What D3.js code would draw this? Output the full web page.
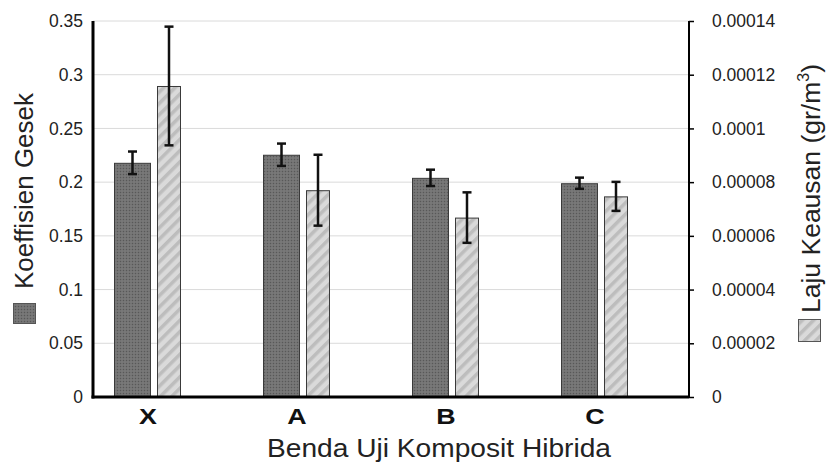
<!DOCTYPE html>
<html>
<head>
<meta charset="utf-8">
<script src="https://cdn.jsdelivr.net/npm/d3@7/dist/d3.min.js"></script>
<style>
html,body{margin:0;padding:0;background:#fff;}
svg{display:block;font-family:"Liberation Sans",Arial,sans-serif;}
</style>
</head>
<body>
<div id="chart"></div>
<script>
// ---- data ----
const categories = ["X", "A", "B", "C"];
const koefisienGesek = [0.218, 0.2255, 0.204, 0.199];
const koefisienErr = [0.0105, 0.0104, 0.0076, 0.0052];
const lajuKeausan = [0.0001158, 0.0000770, 0.0000668, 0.0000747];
const lajuErr = [0.0000221, 0.0000132, 0.0000094, 0.0000054];
const leftTicks = [0, 0.05, 0.1, 0.15, 0.2, 0.25, 0.3, 0.35];
const leftTickLabels = ["0", "0.05", "0.1", "0.15", "0.2", "0.25", "0.3", "0.35"];
const rightTicks = [0, 0.00002, 0.00004, 0.00006, 0.00008, 0.0001, 0.00012, 0.00014];
const rightTickLabels = ["0", "0.00002", "0.00004", "0.00006", "0.00008", "0.0001", "0.00012", "0.00014"];
const xTitle = "Benda Uji Komposit Hibrida";
const leftTitle = "Koeffisien Gesek";
const rightTitle = "Laju Keausan (gr/m";

// ---- layout ----
const W = 826, H = 462;
const L = 93, R = 689, T = 21, B = 397;
const FONT = "Liberation Sans, Arial, sans-serif";

const svg = d3.select("#chart").append("svg").attr("width", W).attr("height", H);
const defs = svg.append("defs");

// dark dotted pattern
const pd = defs.append("pattern").attr("id", "darkPat").attr("patternUnits", "userSpaceOnUse")
  .attr("width", 3).attr("height", 3);
pd.append("rect").attr("width", 3).attr("height", 3).attr("fill", "#727272");
pd.append("rect").attr("x", 0).attr("y", 0).attr("width", 1).attr("height", 1).attr("fill", "#585858");
pd.append("rect").attr("x", 1.5).attr("y", 1.5).attr("width", 1).attr("height", 1).attr("fill", "#8a8a8a");

// light striped pattern
const pl = defs.append("pattern").attr("id", "lightPat").attr("patternUnits", "userSpaceOnUse")
  .attr("width", 8).attr("height", 8).attr("patternTransform", "rotate(45)");
pl.append("rect").attr("width", 8).attr("height", 8).attr("fill", "#dadada");
pl.append("rect").attr("x", 0).attr("y", 0).attr("width", 3.5).attr("height", 8).attr("fill", "#bdbdbd");

const x = d3.scaleBand().domain(categories).range([L, R]).paddingInner(0).paddingOuter(0);
const yL = d3.scaleLinear().domain([0, 0.35]).range([B, T]);
const yR = d3.scaleLinear().domain([0, 0.00014]).range([B, T]);

// gridlines
svg.append("g").selectAll("line").data(leftTicks.slice(1)).join("line")
  .attr("x1", L).attr("x2", R)
  .attr("y1", d => yL(d)).attr("y2", d => yL(d))
  .attr("stroke", "#dadada").attr("stroke-width", 1);

const darkOff = 21, darkW = 37, lightOff = 64, lightW = 24, labelOff = 55;

// dark bars
svg.append("g").selectAll("rect").data(categories).join("rect")
  .attr("x", c => x(c) + darkOff + 0.5)
  .attr("y", (c, i) => yL(koefisienGesek[i]) + 0.5)
  .attr("width", darkW - 1)
  .attr("height", (c, i) => B - yL(koefisienGesek[i]) - 0.5)
  .attr("fill", "url(#darkPat)").attr("stroke", "#3a3a3a").attr("stroke-width", 1);

// light bars
svg.append("g").selectAll("rect").data(categories).join("rect")
  .attr("x", c => x(c) + lightOff + 0.5)
  .attr("y", (c, i) => yR(lajuKeausan[i]) + 0.5)
  .attr("width", lightW - 1)
  .attr("height", (c, i) => B - yR(lajuKeausan[i]) - 0.5)
  .attr("fill", "url(#lightPat)").attr("stroke", "#3a3a3a").attr("stroke-width", 1);

// error bars
function errBars(cx, yv, ev, scale) {
  const g = svg.append("g").attr("stroke", "#111").attr("stroke-width", 2.5);
  categories.forEach((c, i) => {
    const xc = cx(c);
    const yt = scale(yv[i] + ev[i]), yb = scale(yv[i] - ev[i]);
    g.append("line").attr("x1", xc).attr("x2", xc).attr("y1", yt).attr("y2", yb);
    g.append("line").attr("x1", xc - 4.5).attr("x2", xc + 4.5).attr("y1", yt).attr("y2", yt);
    g.append("line").attr("x1", xc - 4.5).attr("x2", xc + 4.5).attr("y1", yb).attr("y2", yb);
  });
}
errBars(c => x(c) + darkOff + darkW / 2, koefisienGesek, koefisienErr, yL);
errBars(c => x(c) + lightOff + lightW / 2, lajuKeausan, lajuErr, yR);

// left axis
const gl = svg.append("g").attr("transform", `translate(${L},0)`)
  .call(d3.axisLeft(yL).tickValues(leftTicks).tickFormat((d, i) => leftTickLabels[i]).tickSize(0).tickPadding(10));
gl.select(".domain").remove();
gl.selectAll("text").attr("font-size", 17.5).attr("fill", "#222").attr("font-family", FONT);
svg.append("line").attr("x1", L).attr("x2", L).attr("y1", T).attr("y2", B + 1.5)
  .attr("stroke", "#000").attr("stroke-width", 3);

// right axis
const gr = svg.append("g").attr("transform", `translate(${R},0)`)
  .call(d3.axisRight(yR).tickValues(rightTicks).tickFormat((d, i) => rightTickLabels[i]).tickSize(5).tickPadding(18));
gr.select(".domain").remove();
gr.selectAll("line").attr("stroke", "#000").attr("stroke-width", 1.5);
gr.selectAll("text").attr("font-size", 17.5).attr("fill", "#222").attr("font-family", FONT);
svg.append("line").attr("x1", R).attr("x2", R).attr("y1", T).attr("y2", B)
  .attr("stroke", "#000").attr("stroke-width", 2);

// bottom axis
svg.append("line").attr("x1", L - 1.5).attr("x2", R).attr("y1", B).attr("y2", B)
  .attr("stroke", "#000").attr("stroke-width", 3);

// category labels
svg.append("g").selectAll("text").data(categories).join("text")
  .attr("transform", c => `translate(${x(c) + labelOff},424) scale(1.22,1)`)
  .attr("text-anchor", "middle").attr("font-size", 22).attr("font-weight", "bold").attr("fill", "#111")
  .text(c => c);

// x title
svg.append("text").attr("x", 439).attr("y", 457).attr("text-anchor", "middle")
  .attr("font-size", 25).attr("textLength", 344).attr("lengthAdjust", "spacingAndGlyphs")
  .attr("fill", "#222").text(xTitle);

// left legend
svg.append("rect").attr("x", 13.5).attr("y", 303.5).attr("width", 22).attr("height", 20)
  .attr("fill", "url(#darkPat)").attr("stroke", "#555").attr("stroke-width", 1);
svg.append("text").attr("transform", "translate(33,191) rotate(-90)").attr("text-anchor", "middle")
  .attr("font-size", 26).attr("fill", "#222").text(leftTitle);

// right legend
svg.append("rect").attr("x", 798.5).attr("y", 319.5).attr("width", 22).attr("height", 22)
  .attr("fill", "url(#lightPat)").attr("stroke", "#555").attr("stroke-width", 1);
const rt = svg.append("text").attr("transform", "translate(820,313) rotate(-90)").attr("text-anchor", "start")
  .attr("font-size", 26.5).attr("fill", "#222");
rt.append("tspan").text(rightTitle);
rt.append("tspan").attr("font-size", 16).attr("dy", -11).text("3");
rt.append("tspan").attr("dy", 11).text(")");
</script>
</body>
</html>
